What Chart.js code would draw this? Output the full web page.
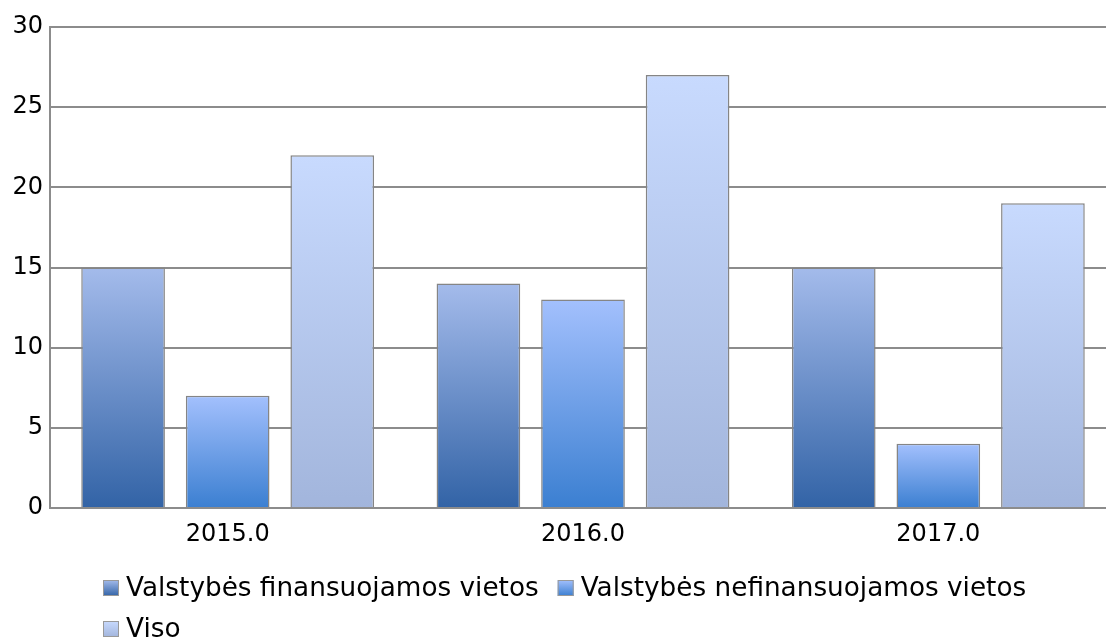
<!DOCTYPE html>
<html>
<head>
<meta charset="utf-8">
<script src="https://cdn.jsdelivr.net/npm/chart.js@4/dist/chart.umd.min.js"></script>
<style>
    html, body {margin: 0; padding: 0; background: #fff; overflow: hidden;}
    /* plot area runs a little past the right edge, as in the original */
    #wrap {width: 1116px; height: 640px;}
</style>
</head>
<body>
<div id="wrap"><canvas id="chart"></canvas></div>
<script>
const years = ["2015.0", "2016.0", "2017.0"];
const finansuojamos = [15, 14, 15];
const nefinansuojamos = [7, 13, 4];
const viso = [22, 27, 19];
const seriesLabels = ["Valstybės finansuojamos vietos", "Valstybės nefinansuojamos vietos", "Viso"];

// top / bottom colours of each bar gradient
const gradients = [
    ["#a4bbeb", "#3263a6"],
    ["#a3c0fd", "#3b7fd1"],
    ["#c8dafe", "#a2b5dc"]
];

const FONT = "'DejaVu Sans', sans-serif";
const GRID = "#8c8c8c";

// each bar gets its own vertical gradient from its top down to zero
const barFill = (stops) => (ctx) => {
    const chart = ctx.chart;
    if (!chart.chartArea || ctx.type !== 'data') return stops[1];
    const y = chart.scales.y;
    const top = y.getPixelForValue(ctx.raw);
    const base = y.getPixelForValue(0);
    if (base - top < 1) return stops[1];
    const g = chart.ctx.createLinearGradient(0, top, 0, base);
    g.addColorStop(0, stops[0]);
    g.addColorStop(1, stops[1]);
    return g;
};

// legend drawn on canvas, left aligned rows like the original
const legendPlugin = {
    id: 'leftLegend',
    afterDraw(chart) {
        const c = chart.ctx;
        const startX = 103, maxRight = 1050, box = 16, gap = 7, itemGap = 19;
        const rows = [chart.height - 52, chart.height - 11];
        c.save();
        c.font = "26.3px " + FONT;
        c.textBaseline = 'middle';
        let x = startX, row = 0;
        chart.data.datasets.forEach((ds, i) => {
            const w = box + gap + c.measureText(ds.label).width;
            if (x > startX && x + w > maxRight) {
                x = startX;
                row++;
            }
            const y = rows[row];
            const g = c.createLinearGradient(0, y - box / 2, 0, y + box / 2);
            g.addColorStop(0, gradients[i][0]);
            g.addColorStop(1, gradients[i][1]);
            c.fillStyle = g;
            c.fillRect(x, y - box / 2, box, box);
            c.strokeStyle = "#999";
            c.lineWidth = 1;
            c.strokeRect(x + 0.5, y - box / 2 + 0.5, box - 1, box - 1);
            c.fillStyle = "#000";
            c.fillText(ds.label, x + box + gap, y + 1);
            x += w + itemGap;
        });
        c.restore();
    }
};

const makeDataset = (label, data, i) => ({
    label: label,
    data: data,
    backgroundColor: barFill(gradients[i]),
    borderColor: "#858585",
    borderWidth: 1.5,
    barPercentage: 0.8,
    categoryPercentage: 0.883
});

new Chart(document.getElementById('chart'), {
    type: 'bar',
    data: {
        labels: years,
        datasets: [
            makeDataset(seriesLabels[0], finansuojamos, 0),
            makeDataset(seriesLabels[1], nefinansuojamos, 1),
            makeDataset(seriesLabels[2], viso, 2)
        ]
    },
    options: {
        responsive: true,
        maintainAspectRatio: false,
        animation: false,
        layout: {padding: {top: 27, right: 0, bottom: 92, left: 0}},
        plugins: {
            legend: {display: false},
            tooltip: {enabled: false}
        },
        scales: {
            x: {
                grid: {display: false, drawTicks: false},
                border: {color: GRID, width: 2},
                ticks: {color: "#000", padding: 12, font: {family: FONT, size: 24}},
                afterFit: (scale) => { scale.height = 40; }
            },
            y: {
                min: 0,
                max: 30,
                ticks: {stepSize: 5, color: "#000", padding: 7, font: {family: FONT, size: 24}},
                grid: {color: GRID, lineWidth: 2, drawTicks: false},
                border: {color: GRID, width: 2},
                afterFit: (scale) => { scale.width = 50; }
            }
        }
    },
    plugins: [legendPlugin]
});
</script>
</body>
</html>
